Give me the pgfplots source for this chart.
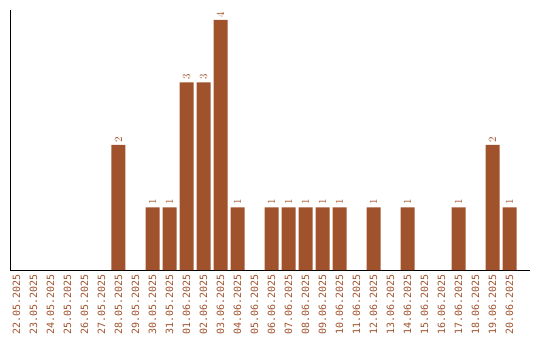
\documentclass[border=0pt]{standalone}
\usepackage{pgfplots}
\pgfplotsset{compat=1.18}
\usepackage{fontspec}
\setmainfont{DejaVu Sans Mono}
\definecolor{barc}{HTML}{A0522D}
\begin{document}
\begin{tikzpicture}[x=1pt,y=1pt]
\useasboundingbox (0,0) rectangle (540,340);
\begin{axis}[
  at={(10pt,70pt)}, anchor=south west,
  scale only axis, width=520pt, height=260pt,
  xmin=-0.38, xmax=30.2, ymin=0, ymax=4.16,
  axis lines*=left,
  axis line style={black, line width=1pt, -},
  ytick=\empty,
  xtick={0,...,29},
  xticklabels={22.05.2025,23.05.2025,24.05.2025,25.05.2025,26.05.2025,27.05.2025,28.05.2025,29.05.2025,30.05.2025,31.05.2025,01.06.2025,02.06.2025,03.06.2025,04.06.2025,05.06.2025,06.06.2025,07.06.2025,08.06.2025,09.06.2025,10.06.2025,11.06.2025,12.06.2025,13.06.2025,14.06.2025,15.06.2025,16.06.2025,17.06.2025,18.06.2025,19.06.2025,20.06.2025},
  x tick label style={rotate=90, anchor=east, font=\fontsize{10}{10}\selectfont, text=barc, inner sep=1pt},
  major tick length=0pt,
  xticklabel shift=3pt,
  ybar, bar width=14pt,
  nodes near coords,
  nodes near coords style={rotate=90, anchor=west, font=\fontsize{10.5}{12}\selectfont, text=barc, inner sep=2.5pt},
  clip=false,
]
\addplot[fill=barc, draw=none] coordinates {
(6,2) (8,1) (9,1) (10,3) (11,3) (12,4) (13,1)
(15,1) (16,1) (17,1) (18,1) (19,1) (21,1) (23,1) (26,1) (28,2) (29,1)};
\end{axis}
\end{tikzpicture}
\end{document}
